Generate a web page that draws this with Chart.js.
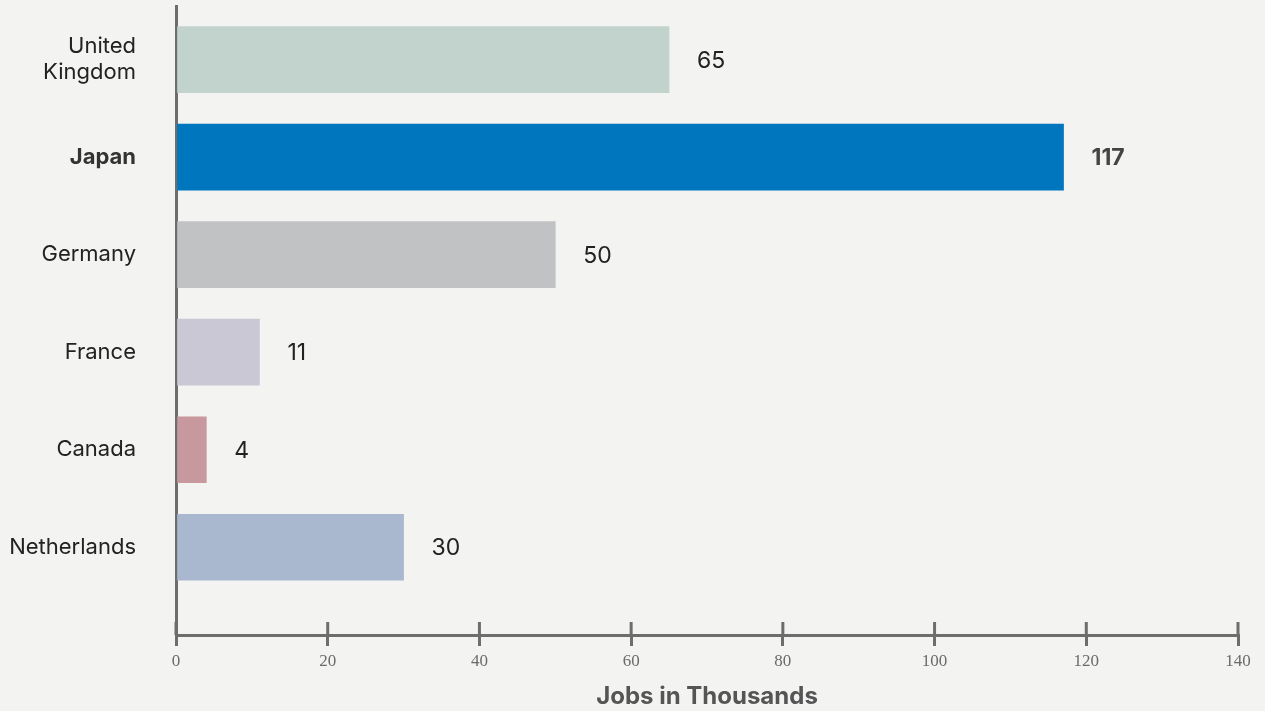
<!DOCTYPE html>
<html>
<head>
<meta charset="utf-8">
<script src="https://cdn.jsdelivr.net/npm/chart.js@4"></script>
<style>
  html, body { margin: 0; padding: 0; background: #f3f3f1; }
  canvas { display: block; }
</style>
</head>
<body>
<canvas id="jobsChart" width="1265" height="711"></canvas>
<script>
// ---- data ----
const countries = [["United", "Kingdom"], "Japan", "Germany", "France", "Canada", "Netherlands"];
const jobs = [65, 117, 50, 11, 4, 30];
const barColors = ["#c2d3cd", "#0076be", "#c1c2c4", "#cac8d5", "#c7989e", "#a9b7cf"];
const xTicks = [0, 20, 40, 60, 80, 100, 120, 140];
const highlighted = 1; // Japan

const axisColor = "#6d6d6d";
const sans = "Inter, Roboto, 'Liberation Sans', sans-serif";

// value labels to the right of each bar
const valueLabels = {
  id: "valueLabels",
  afterDatasetsDraw(chart) {
    const ctx = chart.ctx;
    const meta = chart.getDatasetMeta(0);
    ctx.save();
    ctx.textBaseline = "middle";
    ctx.textAlign = "left";
    meta.data.forEach((bar, i) => {
      const bold = i === highlighted;
      ctx.font = (bold ? "bold " : "") + "23px " + sans;
      ctx.fillStyle = bold ? "#444444" : "#222222";
      ctx.fillText(String(jobs[i]), bar.x + 28, bar.y + 1);
    });
    ctx.restore();
  }
};

// x ticks stick out on both sides of the axis line
const innerTicks = {
  id: "innerTicks",
  afterDraw(chart) {
    const ctx = chart.ctx;
    const x = chart.scales.x;
    const bottom = chart.chartArea.bottom;
    ctx.save();
    ctx.strokeStyle = axisColor;
    ctx.lineWidth = 3;
    x.ticks.forEach(t => {
      const px = x.getPixelForValue(t.value);
      ctx.beginPath();
      ctx.moveTo(px, bottom - 13);
      ctx.lineTo(px, bottom);
      ctx.stroke();
    });
    ctx.restore();
  }
};

new Chart(document.getElementById("jobsChart"), {
  type: "bar",
  data: {
    datasets: [{
      data: jobs.map((v, i) => ({ x: v, y: i })),
      backgroundColor: barColors,
      borderWidth: 0,
      barThickness: 66
    }]
  },
  plugins: [valueLabels, innerTicks],
  options: {
    indexAxis: "y",
    responsive: false,
    animation: false,
    layout: { padding: { top: 6, right: 27, bottom: 0, left: 0 } },
    plugins: {
      legend: { display: false },
      tooltip: { enabled: false }
    },
    scales: {
      x: {
        type: "linear",
        min: 0,
        max: 140,
        afterBuildTicks: s => { s.ticks = xTicks.map(v => ({ value: v })); },
        afterFit: s => { s.height = 76; s.paddingLeft = 0; s.paddingRight = 0; },
        grid: {
          drawOnChartArea: false,
          drawTicks: true,
          tickLength: 11,
          color: axisColor,
          lineWidth: 3
        },
        border: { display: true, color: axisColor, width: 3 },
        ticks: {
          padding: 5,
          color: "#6b6b6b",
          font: { family: "'Liberation Serif', 'DejaVu Serif', serif", size: 17 }
        },
        title: {
          display: true,
          text: "Jobs in Thousands",
          color: "#555555",
          padding: { top: 0, bottom: 0 },
          font: { family: sans, size: 24, weight: "bold" }
        }
      },
      y: {
        type: "linear",
        reverse: true,
        offset: false,
        min: -0.55,
        max: 5.9,
        afterBuildTicks: s => { s.ticks = countries.map((_, i) => ({ value: i })); },
        afterFit: s => { s.width = 176; s.paddingTop = 0; s.paddingBottom = 0; },
        grid: { display: false, offset: false },
        border: { display: true, color: axisColor, width: 3 },
        ticks: {
          padding: 32,
          callback: v => countries[v],
          color: c => c.index === highlighted ? "#333333" : "#222222",
          font: c => ({
            family: sans,
            size: 22,
            lineHeight: 1.2,
            weight: c.index === highlighted ? "bold" : "normal"
          })
        }
      }
    }
  }
});
</script>
</body>
</html>
